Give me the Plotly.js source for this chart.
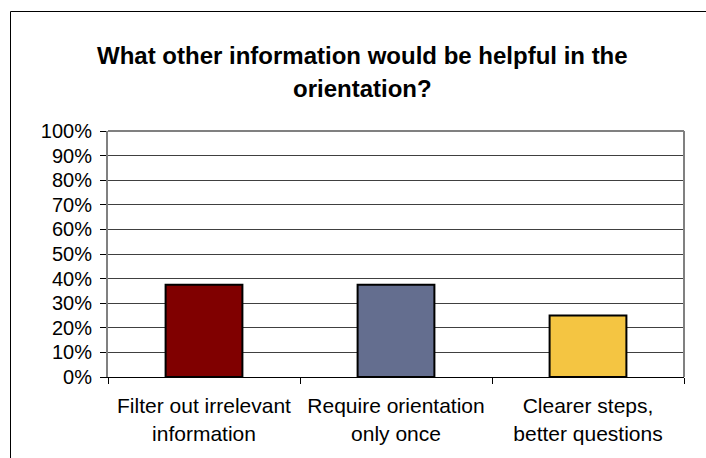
<!DOCTYPE html>
<html>
<head>
<meta charset="utf-8">
<script src="https://cdn.plot.ly/plotly-3.0.1.min.js"></script>
<style>
html,body{margin:0;padding:0;background:#fff;}
#chart{width:706px;height:458px;}
</style>
</head>
<body>
<div id="chart"></div>
<script>
const titleLines = ["What other information would be helpful in the", "orientation?"];
const categories = ["Filter out irrelevant<br>information", "Require orientation<br>only once", "Clearer steps,<br>better questions"];
const values = [0.375, 0.375, 0.25];

const barColors = ["#800000", "#646E8F", "#F4C542"];
const FONT = "Liberation Sans, Arial, sans-serif";

const trace = {
  type: "bar",
  x: categories,
  y: values,
  marker: {color: barColors, line: {color: "#000", width: 2}},
  hoverinfo: "skip"
};

const L = 108, T = 131, R = 22, B = 81;
const W = 706, H = 458;
const pw = W - L - R, ph = H - T - B;
const px = v => (v - L) / pw;
const py = v => (H - B - v) / ph;

const layout = {
  width: W, height: H,
  margin: {l: L, r: R, t: T, b: B, pad: 0},
  paper_bgcolor: "#fff",
  plot_bgcolor: "#fff",
  showlegend: false,
  bargap: 0.6,
  font: {family: FONT, color: "#000", size: 20},
  xaxis: {
    type: "category",
    showgrid: false,
    showline: true, linecolor: "#000", linewidth: 1,
    ticks: "outside", tickson: "boundaries", ticklen: 6, tickcolor: "#000", tickwidth: 1,
    ticklabelstandoff: 10,
    tickfont: {family: FONT, size: 21, color: "#000"},
    fixedrange: true
  },
  yaxis: {
    range: [0, 1],
    dtick: 0.1,
    tickformat: ".0%",
    showgrid: true, gridcolor: "#404040", gridwidth: 1,
    zeroline: false,
    showline: true, linecolor: "#808080", linewidth: 2,
    ticks: "outside", ticklen: 6, tickcolor: "#000", tickwidth: 1,
    ticklabelstandoff: 4,
    tickfont: {family: FONT, size: 20, color: "#000"},
    fixedrange: true
  },
  annotations: [
    {text: "<b>" + titleLines[0] + "</b>", xref: "paper", yref: "paper", x: px(362), y: py(55),
     xanchor: "center", yanchor: "middle", showarrow: false, font: {family: FONT, size: 24, color: "#000"}},
    {text: "<b>" + titleLines[1] + "</b>", xref: "paper", yref: "paper", x: px(362), y: py(88),
     xanchor: "center", yanchor: "middle", showarrow: false, font: {family: FONT, size: 24, color: "#000"}}
  ],
  shapes: [
    {type: "line", xref: "paper", yref: "paper", x0: 0, x1: 1, y0: 1, y1: 1, line: {color: "#808080", width: 2}},
    {type: "line", xref: "paper", yref: "paper", x0: 1, x1: 1, y0: 0, y1: 1, line: {color: "#808080", width: 2}},
    {type: "line", xref: "paper", yref: "paper", x0: px(10.5), x1: px(10.5), y0: py(11.5), y1: py(470), line: {color: "#000", width: 1}},
    {type: "line", xref: "paper", yref: "paper", x0: px(10.5), x1: px(720), y0: py(11.5), y1: py(11.5), line: {color: "#000", width: 1}}
  ]
};

Plotly.newPlot("chart", [trace], layout, {displayModeBar: false, staticPlot: true});
</script>
</body>
</html>
